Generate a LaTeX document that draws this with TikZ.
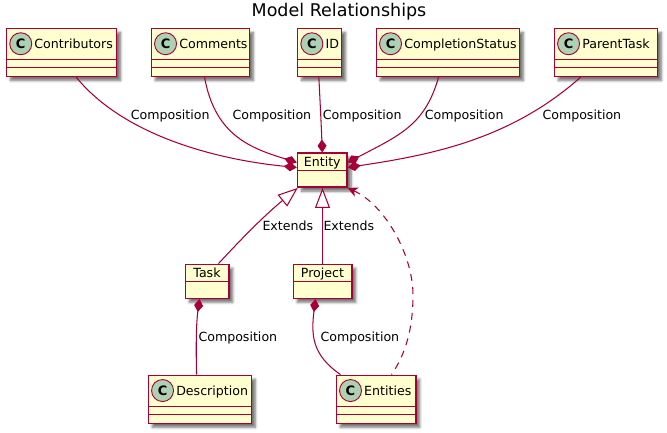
\documentclass[tikz,border=0pt]{standalone}
\usepackage{fontspec}
\setmainfont{DejaVu Sans}
\usetikzlibrary{arrows.meta, calc, shadows.blur}
\definecolor{umlborder}{HTML}{A80036}
\definecolor{umlfill}{HTML}{FEFECE}
\definecolor{spotfill}{HTML}{ADD1B2}

% box with spot, name and two empty compartments
\newcommand{\classbox}[5]{
    \node[classnode, minimum width=#4pt, minimum height=48pt] (#1) at (#2,#3) {};
    \node[spot] (#1spot) at ($(#1.north west)+(15,16)$) {C};
    \node[boxlabel] (#1label) at ($(#1.north west)+(28.5,20.5)$) {#5};
    \draw[umlline] ($(#1.north west)+(0,32)$) -- ($(#1.north east)+(0,32)$);
    \draw[umlline] ($(#1.north west)+(0,40)$) -- ($(#1.north east)+(0,40)$);
}
% box without spot, one compartment line
\newcommand{\plainbox}[5]{
    \node[classnode, minimum width=#4pt, minimum height=34pt] (#1) at (#2,#3) {};
    \node[font=\fontsize{12.6}{15}\selectfont, anchor=base, inner sep=0pt] (#1label) at ($(#1.north)+(0,14)$) {#5};
    \draw[umlline] ($(#1.north west)+(0,18)$) -- ($(#1.north east)+(0,18)$);
}

\begin{document}
\begin{tikzpicture}[
    x=1pt, y=-1pt,
    umlline/.style={draw=umlborder, line width=1.05pt},
    classnode/.style={draw=umlborder, fill=umlfill, line width=1.5pt, inner sep=0pt,
        blur shadow={shadow xshift=4pt, shadow yshift=-4pt, shadow blur radius=2.5pt, shadow blur steps=6, shadow opacity=55}},
    spot/.style={circle, draw=umlborder, fill=spotfill, line width=0.9pt, minimum size=22pt, inner sep=0pt,
        font=\fontsize{13}{15}\selectfont\bfseries},
    boxlabel/.style={anchor=base west, inner sep=0pt, font=\fontsize{12.6}{15}\selectfont},
    edgelabel/.style={anchor=base west, inner sep=0pt, font=\fontsize{12.6}{15}\selectfont},
    comp/.style={umlline, {Diamond[length=13pt, width=9pt, fill=umlborder]}-},
    extends/.style={umlline, {Triangle[open, length=20pt, width=15pt, fill=white]}-},
    depends/.style={umlline, dash pattern=on 7pt off 6pt, {Stealth[length=10pt, width=10pt, inset=3pt]}-}
]
    \useasboundingbox (0,0) rectangle (667,433);
    \node[anchor=base, inner sep=0pt, font=\fontsize{17.5}{20}\selectfont] (title) at (339,17) {Model Relationships};

    % Classes
    \classbox{contributors}{61.5}{52.5}{110}{Contributors}
    \classbox{comments}{200.3}{52.5}{98}{Comments}
    \classbox{idclass}{319.6}{52.5}{44}{ID}
    \classbox{status}{447.8}{52.5}{143}{CompletionStatus}
    \classbox{parent}{605.8}{52.5}{103}{ParentTask}
    \plainbox{entity}{322.25}{170.2}{49.5}{Entity}
    \plainbox{task}{207}{281.3}{43.5}{Task}
    \plainbox{project}{322.5}{281.3}{58.5}{Project}
    \classbox{description}{199.8}{399.3}{103}{Description}
    \classbox{entities}{376}{399.3}{79.5}{Entities}

    % Compositions
    \draw[comp] ($(entity.north west)+(0,15)$) .. controls (220,160) and (125,137) .. ($(contributors.south west)+(70.5,0)$);
    \draw[comp] ($(entity.north west)+(0,10)$) .. controls (250,148) and (215,135) .. ($(comments.south west)+(54,0)$);
    \draw[comp] (entity.north) .. controls (321.5,130) and (320,100) .. ($(idclass.south west)+(22,0)$);
    \draw[comp] ($(entity.north east)+(0,10)$) .. controls (400,135) and (425,125) .. ($(status.south west)+(63,0)$);
    \draw[comp] ($(entity.north east)+(0,15)$) .. controls (430,155) and (510,140) .. ($(parent.south west)+(27,0)$);
    \draw[comp] ($(task.south west)+(15,0)$) .. controls (196,325) and (196,350) .. ($(description.north west)+(49,0)$);
    \draw[comp] ($(project.south west)+(23,0)$) .. controls (311,335) and (312,355) .. ($(entities.north west)+(5,0)$);

    % Extends
    \draw[extends] ($(entity.south west)+(1,0)$) .. controls (265,215) and (245,235) .. ($(task.north west)+(34,0)$);
    \draw[extends] (entity.south -| project.north) -- (project.north);

    % Dependency
    \draw[depends] (entity.south east) .. controls (385,205) and (413,255) .. (413,295) .. controls (413,330) and (405,355) .. ($(entities.north west)+(56,0)$);

    % Labels
    \node[edgelabel] (lblcontrib) at (130.7,119.3) {Composition};
    \node[edgelabel] (lblcomments) at (232.3,119.3) {Composition};
    \node[edgelabel] (lblid) at (322.7,119.3) {Composition};
    \node[edgelabel] (lblstatus) at (424.7,119.3) {Composition};
    \node[edgelabel] (lblparent) at (542.3,119.3) {Composition};
    \node[edgelabel] (lbltask) at (262.3,230.7) {Extends};
    \node[edgelabel] (lblproject) at (323.3,230.7) {Extends};
    \node[edgelabel] (lbldesc) at (198.3,341.7) {Composition};
    \node[edgelabel] (lblentities) at (320.3,341.7) {Composition};
\end{tikzpicture}
\end{document}
